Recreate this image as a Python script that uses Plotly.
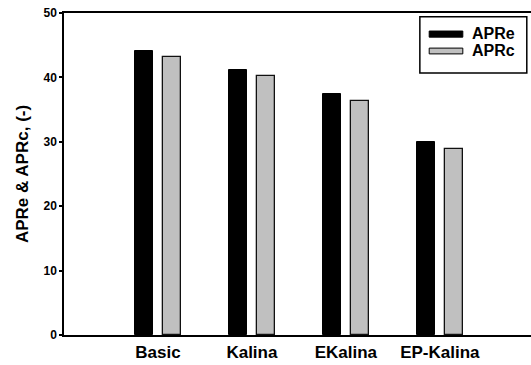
import plotly.graph_objects as go

categories = ["Basic", "Kalina", "EKalina", "EP-Kalina"]
apre = [44.1, 41.1, 37.4, 30.0]
aprc = [43.1, 40.2, 36.4, 28.9]
series_names = ["APRe", "APRc"]
y_ticks = [0, 10, 20, 30, 40, 50]

FONT = "Liberation Sans, Arial, sans-serif"
xpos = list(range(len(categories)))

fig = go.Figure()
fig.add_trace(go.Bar(x=xpos, y=apre, name=series_names[0], width=0.197, offset=-0.248,
                     marker=dict(color="black", line=dict(color="black", width=1)),
                     showlegend=False))
fig.add_trace(go.Bar(x=xpos, y=aprc, name=series_names[1], width=0.197, offset=0.051,
                     marker=dict(color="#c0c0c0", line=dict(color="#111111", width=1.3)),
                     showlegend=False))

# custom legend (box + swatches + text)
fig.add_shape(type="rect", xref="paper", yref="paper", x0=0.762, x1=0.991, y0=0.814, y1=0.988,
              line=dict(color="black", width=1.5), fillcolor="white", layer="above")
fig.add_shape(type="rect", xref="paper", yref="paper", x0=0.782, x1=0.854, y0=0.925, y1=0.944,
              line=dict(color="black", width=1), fillcolor="black", layer="above")
fig.add_shape(type="rect", xref="paper", yref="paper", x0=0.782, x1=0.854, y0=0.873, y1=0.891,
              line=dict(color="black", width=1), fillcolor="#c0c0c0", layer="above")
for name, yy in zip(series_names, [0.935, 0.882]):
    fig.add_annotation(xref="paper", yref="paper", x=0.870, y=yy, text="<b>%s</b>" % name,
                       showarrow=False, xanchor="left", yanchor="middle",
                       font=dict(family=FONT, size=16, color="black"))

fig.update_layout(
    width=531, height=365,
    margin=dict(l=64, r=0, t=13, b=30, pad=0),
    paper_bgcolor="white", plot_bgcolor="white",
    font=dict(family=FONT, color="black"),
    bargap=0, barmode="overlay",
)
fig.update_xaxes(
    range=[-1, 3.97], tickvals=xpos, ticktext=["<b>%s</b>" % c for c in categories],
    tickfont=dict(family=FONT, size=17, color="black"), ticks="outside", ticklen=1,
    tickcolor="rgba(0,0,0,0)",
    showline=True, linecolor="black", linewidth=1.5, mirror=True,
    showgrid=False, zeroline=False, automargin=False,
)
fig.update_yaxes(
    range=[0, 50], tickvals=y_ticks, ticktext=["<b>%d</b>" % v for v in y_ticks],
    tickfont=dict(family=FONT, size=12, color="black"), ticks="outside", ticklen=3,
    tickwidth=1.5, tickcolor="black",
    showline=True, linecolor="black", linewidth=1.5, mirror=True,
    showgrid=False, zeroline=False, automargin=False,
    title=dict(text="<b>APRe &amp; APRc, (-)</b>", font=dict(family=FONT, size=17, color="black"),
               standoff=11),
)

fig.write_html("out.html", config={"displayModeBar": False},
               post_script="document.body.style.margin='0';document.body.style.overflow='hidden';")
